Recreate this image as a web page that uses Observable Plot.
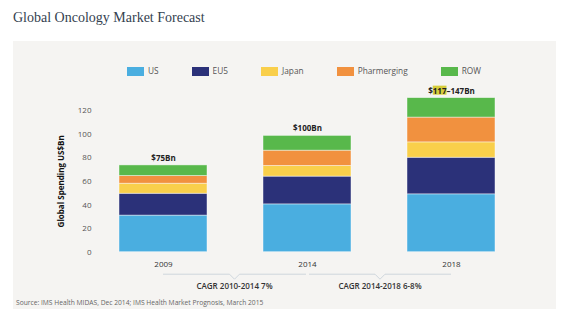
<!DOCTYPE html>
<html><head><meta charset="utf-8">
<script src="https://cdn.jsdelivr.net/npm/d3@7"></script>
<script src="https://cdn.jsdelivr.net/npm/@observablehq/plot@0.6"></script>
<style>
html,body{margin:0;padding:0;background:#fff;}
body{width:570px;height:322px;overflow:hidden;position:relative;font-family:"Open Sans",sans-serif;}
#title{position:absolute;left:13px;top:10px;font-family:"Liberation Serif",serif;font-size:14px;color:#34414f;white-space:nowrap;}
#panel{position:absolute;left:13px;top:41px;width:543px;height:268px;background:#f5f4f2;}
#legend{position:absolute;left:127px;top:66px;display:flex;gap:33px;font-size:8.3px;color:#555;line-height:10px;}
#legend .item{display:flex;align-items:center;gap:4px;}
#legend .sw{width:17px;height:9px;}
#chart{position:absolute;left:0;top:80px;}
#source{position:absolute;left:16px;top:298px;font-size:6.7px;color:#666;white-space:nowrap;}
</style></head>
<body>
<div id="title"></div>
<div id="panel"></div>
<div id="legend"></div>
<div id="chart"></div>
<div id="source"></div>
<script>
const titleText = "Global Oncology Market Forecast";
const years = ["2009", "2014", "2018"];
const regions = ["US", "EU5", "Japan", "Pharmerging", "ROW"];
const colors = ["#4aaee0", "#2b3179", "#f9cf4b", "#f1913f", "#58b84b"];
const us = [31, 40.5, 49];
const eu5 = [18.5, 23.5, 31];
const japan = [8.5, 9, 13];
const pharmerging = [6.5, 13, 21];
const row = [9, 12.5, 16.5];
const totalLabels = ["$75Bn", "$100Bn", "$117–147Bn"];
const highlightText = "117";
const yTicks = [0, 20, 40, 60, 80, 100, 120];
const yLabel = "Global Spending US$Bn";
const cagrLabels = ["CAGR 2010-2014 7%", "CAGR 2014-2018 6-8%"];
const sourceText = "Source: IMS Health MIDAS, Dec 2014; IMS Health Market Prognosis, March 2015";

document.getElementById("title").textContent = titleText;
document.getElementById("source").textContent = sourceText;

const series = [us, eu5, japan, pharmerging, row];
const data = years.flatMap((year, i) => regions.map((region, j) => ({year, region, value: series[j][i]})));
const totals = years.map((_, i) => d3.sum(series, s => s[i]));

// legend
const legend = d3.select("#legend");
regions.forEach((r, i) => {
  const it = legend.append("div").attr("class", "item");
  it.append("div").attr("class", "sw").style("background", colors[i]);
  it.append("span").text(r);
});

const chart = Plot.plot({
  width: 570,
  height: 230,
  marginLeft: 94,
  marginRight: 51,
  marginTop: 30,
  marginBottom: 58.3,
  style: {background: "transparent", fontFamily: "Open Sans, sans-serif", overflow: "visible"},
  x: {domain: years, paddingInner: 0.39, paddingOuter: 0.165, align: 0.5},
  y: {domain: [0, 120]},
  color: {domain: regions, range: colors},
  marks: [
    Plot.barY(data, {x: "year", y: "value", fill: "region", stroke: "#ffffff", strokeOpacity: 0.55, strokeWidth: 0.8}),
    Plot.text(years, {x: d => d, y: (d, i) => totals[i], text: (d, i) => totalLabels[i], dy: -7, fontWeight: "bold", fontSize: 8, fill: "#222"}),
    Plot.axisY({ticks: yTicks, tickSize: 0, tickPadding: 3, fontSize: 8, fill: "#555", label: yLabel, labelAnchor: "center", labelArrow: "none", labelOffset: 36}),
    Plot.axisX({tickSize: 0, tickPadding: 9, fontSize: 8, fill: "#333", label: null})
  ]
});
document.getElementById("chart").appendChild(chart);

const svg = d3.select(chart);
svg.selectAll('g[aria-label="y-axis label"] text').attr("font-weight", "bold").attr("fill", "#111").attr("font-size", 8);

// highlight within the last total label
svg.selectAll("text").each(function() {
  if (this.textContent === totalLabels[2]) {
    const t = this;
    const full = t.textContent;
    const k = full.indexOf(highlightText);
    const bb = t.getBBox();
    const x0 = bb.x + (k > 0 ? t.getSubStringLength(0, k) : 0);
    const w = t.getSubStringLength(k, highlightText.length);
    const rect = document.createElementNS("http://www.w3.org/2000/svg", "rect");
    rect.setAttribute("x", x0);
    rect.setAttribute("y", bb.y + 1);
    rect.setAttribute("width", w);
    rect.setAttribute("height", bb.height - 2);
    rect.setAttribute("fill", "#d6cd3a");
    if (t.getAttribute("transform")) rect.setAttribute("transform", t.getAttribute("transform"));
    t.parentNode.insertBefore(rect, t);
  }
});

// CAGR brackets via the plot's own scales
const xs = chart.scale("x");
const ys = chart.scale("y");
const cx = v => xs.apply(v) + xs.bandwidth / 2;
const yb = ys.apply(0);
const by = yb + 22.5;
const g = svg.append("g");
[[years[0], years[1], 0, -1], [years[1], years[2], 2, 0]].forEach(([a, b, o1, o2], i) => {
  const x1 = cx(a) + o1, x2 = cx(b) + o2, m = (x1 + x2) / 2;
  g.append("path")
    .attr("d", `M${x1},${by}H${m - 5}L${m},${by + 5}L${m + 5},${by}H${x2}`)
    .attr("fill", "none").attr("stroke", "#cbd2da").attr("stroke-width", 0.9);
  g.append("text").attr("x", m).attr("y", by + 12).attr("dy", "0.35em")
    .attr("text-anchor", "middle").attr("font-size", 8).attr("font-weight", 600).attr("fill", "#333")
    .text(cagrLabels[i]);
});
</script>
</body></html>
